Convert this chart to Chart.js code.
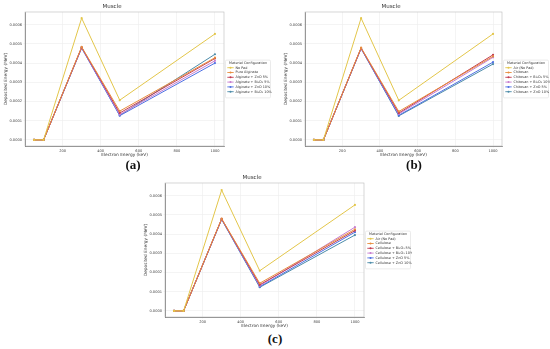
<!doctype html>
<html lang="en">
<head>
<meta charset="utf-8">
<title>Muscle</title>
<script src="https://cdn.jsdelivr.net/npm/chart.js@4"></script>
<style>
  body { margin: 0; width: 550px; height: 349px; background: #fff; position: relative; overflow: hidden; }
  .panel { position: absolute; width: 272px; height: 160px; }
  .tag { position: absolute; font: bold 13px "Liberation Serif", serif; color: #111; transform: translate(-50%, -50%); }
</style>
</head>
<body>

<div class="panel" style="left:0px; top:0px"><canvas id="chart_a"></canvas></div>
<div class="panel" style="left:280px; top:0px; width:270px"><canvas id="chart_b"></canvas></div>
<div class="panel" style="left:140px; top:171px"><canvas id="chart_c"></canvas></div>
<div class="tag" style="left:133px; top:165px">(a)</div>
<div class="tag" style="left:414px; top:165px">(b)</div>
<div class="tag" style="left:275px; top:339px">(c)</div>

<script>
    // electron energies (keV) and axis ticks
    const energies = [50, 100, 300, 500, 1000];
    const xTicks = [200, 400, 600, 800, 1000];
    const yTicks = [0, 0.0001, 0.0002, 0.0003, 0.0004, 0.0005, 0.0006];

    // (a) alginate pads, deposited energy (MeV)
    const alginateLabels = ["No Pad", "Pure Alginate", "Alginate + ZnO 5%", "Alginate + Bi₂O₃ 5%",
                            "Alginate + ZnO 10%", "Alginate + Bi₂O₃ 10%"];
    const alginateNoPad = [0, 0, 0.000634, 0.000207, 0.000552];
    const alginatePure  = [0, 0, 0.000484, 0.000150, 0.000428];
    const alginateZnO5  = [0, 0, 0.000482, 0.000140, 0.000424];
    const alginateBi5   = [0, 0, 0.000480, 0.000132, 0.000412];
    const alginateZnO10 = [0, 0, 0.000478, 0.000126, 0.000400];
    const alginateBi10  = [0, 0, 0.000480, 0.000128, 0.000446];

    // (b) chitosan pads
    const chitosanLabels = ["Air (No Pad)", "Chitosan", "Chitosan + Bi₂O₃ 5%", "Chitosan + Bi₂O₃ 10%",
                            "Chitosan + ZnO 5%", "Chitosan + ZnO 10%"];
    const chitosanAir   = [0, 0, 0.000634, 0.000206, 0.000552];
    const chitosanPure  = [0, 0, 0.000480, 0.000148, 0.000435];
    const chitosanBi5   = [0, 0, 0.000478, 0.000140, 0.000443];
    const chitosanBi10  = [0, 0, 0.000477, 0.000135, 0.000430];
    const chitosanZnO5  = [0, 0, 0.000476, 0.000128, 0.000405];
    const chitosanZnO10 = [0, 0, 0.000476, 0.000125, 0.000395];

    // (c) cellulose pads
    const celluloseLabels = ["Air (No Pad)", "Cellulose", "Cellulose + Bi₂O₃ 5%", "Cellulose + Bi₂O₃ 10%",
                             "Cellulose + ZnO 5%", "Cellulose + ZnO 10%"];
    const celluloseAir   = [0, 0, 0.000629, 0.000209, 0.000552];
    const cellulosePure  = [0, 0, 0.000480, 0.000144, 0.000425];
    const celluloseBi5   = [0, 0, 0.000479, 0.000136, 0.000418];
    const celluloseBi10  = [0, 0, 0.000478, 0.000131, 0.000436];
    const celluloseZnO5  = [0, 0, 0.000477, 0.000126, 0.000410];
    const celluloseZnO10 = [0, 0, 0.000476, 0.000123, 0.000395];

    const colors = ["#e3c64a", "#e88d3d", "#c23b50", "#c67ccf", "#4d6fe3", "#4a8aa8"];

    // matplotlib-style legend box, placed right of the plot area
    const boxLegend = {
        id: "boxLegend",
        afterDraw(chart) {
            const ctx = chart.ctx, area = chart.chartArea;
            const sets = chart.data.datasets;
            const w = 45, rowH = 4.8, h = 9 + sets.length * rowH;
            const x0 = area.right + 1.5, y0 = (area.top + area.bottom) / 2 - h / 2;
            ctx.save();
            ctx.fillStyle = "rgba(255,255,255,0.9)";
            ctx.strokeStyle = "#ddd";
            ctx.lineWidth = 0.6;
            ctx.beginPath();
            ctx.roundRect(x0, y0, w, h, 1.2);
            ctx.fill(); ctx.stroke();
            ctx.fillStyle = "#333";
            ctx.font = "3.4px 'DejaVu Sans'";
            ctx.textAlign = "center"; ctx.textBaseline = "middle";
            ctx.fillText("Material Configuration", x0 + w / 2, y0 + 3.2);
            ctx.textAlign = "left";
            sets.forEach((ds, i) => {
                const y = y0 + 7.6 + i * rowH;
                ctx.strokeStyle = ds.borderColor; ctx.lineWidth = 0.9;
                ctx.beginPath(); ctx.moveTo(x0 + 1.8, y); ctx.lineTo(x0 + 8.2, y); ctx.stroke();
                ctx.fillStyle = ds.borderColor;
                ctx.beginPath(); ctx.arc(x0 + 5, y, 1, 0, 2 * Math.PI); ctx.fill();
                ctx.fillStyle = "#333";
                ctx.fillText(ds.label, x0 + 10, y);
            });
            ctx.restore();
        }
    };

    // light frame round the plot area
    const frame = {
        id: "frame",
        afterDatasetsDraw(chart) {
            const ctx = chart.ctx, a = chart.chartArea;
            ctx.save();
            ctx.strokeStyle = "#bbb"; ctx.lineWidth = 0.6;
            ctx.strokeRect(a.left, a.top, a.right - a.left, a.bottom - a.top);
            ctx.restore();
        }
    };

    function make_chart(id, labels, series) {
        const datasets = series.map((vals, i) => ({
            label: labels[i],
            data: energies.map((e, j) => ({x: e, y: vals[j]})),
            borderColor: colors[i],
            backgroundColor: colors[i],
            borderWidth: 1,
            pointRadius: 1.1,
            pointBorderWidth: 0,
            tension: 0
        }));
        return new Chart(id, {
            type: "line",
            data: {datasets: datasets},
            plugins: [frame, boxLegend],
            options: {
                animation: false,
                responsive: true,
                maintainAspectRatio: false,
                layout: {padding: {left: 0, right: 48, top: 0, bottom: 0}},
                plugins: {
                    legend: {display: false},
                    tooltip: {enabled: false},
                    title: {display: true, text: "Muscle", color: "#333",
                            font: {size: 5.5, family: "DejaVu Sans", weight: "normal"},
                            padding: {top: 3, bottom: 2.4}}
                },
                scales: {
                    x: {
                        type: "linear", min: 2.5, max: 1047.5,
                        afterBuildTicks: s => { s.ticks = xTicks.map(v => ({value: v})); },
                        afterFit: s => { s.height = 14; },
                        grid: {color: "#ececec", lineWidth: 0.6, tickLength: 1.5},
                        border: {color: "#555", width: 0.7},
                        ticks: {color: "#444", font: {size: 3.6, family: "DejaVu Sans"}, padding: 1.5,
                                maxRotation: 0, callback: v => v},
                        title: {display: true, text: "Electron Energy (keV)", color: "#333",
                                font: {size: 4.3, family: "DejaVu Sans"}, padding: {top: 0, bottom: 3}}
                    },
                    y: {
                        min: -0.0000318, max: 0.000666,
                        afterBuildTicks: s => { s.ticks = yTicks.map(v => ({value: v})); },
                        afterFit: s => { s.width = 25; },
                        grid: {color: "#ececec", lineWidth: 0.6, tickLength: 1.5},
                        border: {color: "#555", width: 0.7},
                        ticks: {color: "#444", font: {size: 3.6, family: "DejaVu Sans"}, padding: 1.5,
                                callback: v => v.toFixed(4)},
                        title: {display: true, text: "Deposited Energy (MeV)", color: "#333",
                                font: {size: 4.3, family: "DejaVu Sans"}, padding: {top: 3, bottom: 1}}
                    }
                }
            }
        });
    }

    make_chart("chart_a", alginateLabels,
        [alginateNoPad, alginatePure, alginateZnO5, alginateBi5, alginateZnO10, alginateBi10]);
    make_chart("chart_b", chitosanLabels,
        [chitosanAir, chitosanPure, chitosanBi5, chitosanBi10, chitosanZnO5, chitosanZnO10]);
    make_chart("chart_c", celluloseLabels,
        [celluloseAir, cellulosePure, celluloseBi5, celluloseBi10, celluloseZnO5, celluloseZnO10]);
</script>
</body>
</html>
